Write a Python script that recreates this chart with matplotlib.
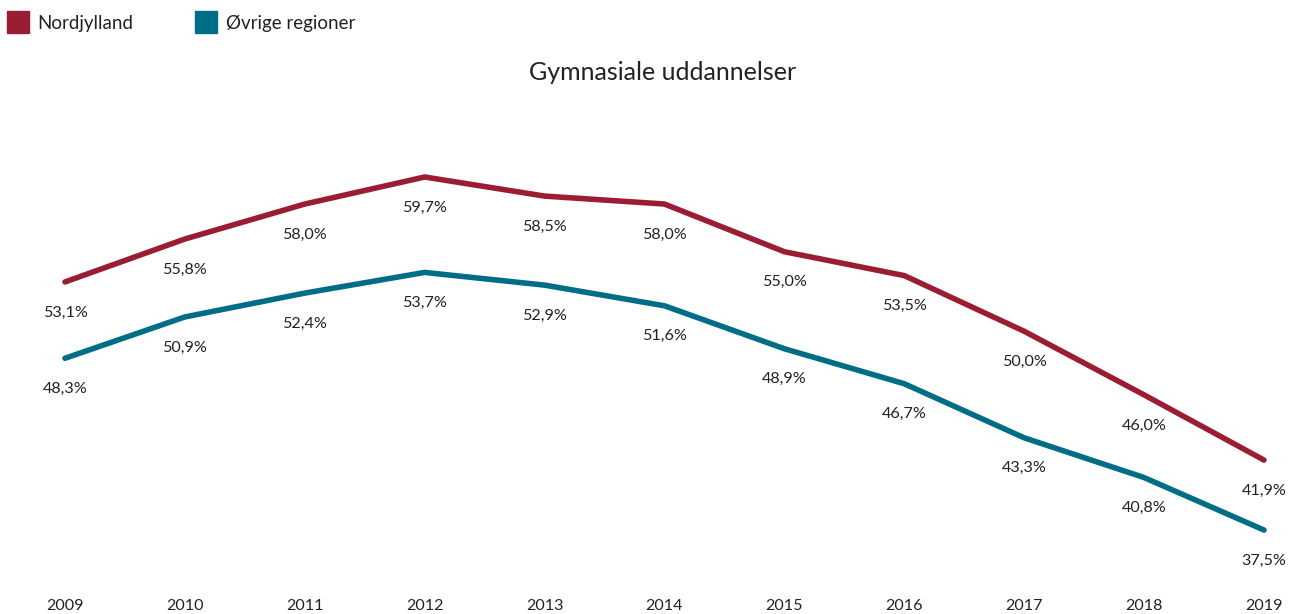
import matplotlib
matplotlib.use("Agg")
import matplotlib.pyplot as plt
from matplotlib.patches import Rectangle

years = [2009, 2010, 2011, 2012, 2013, 2014, 2015, 2016, 2017, 2018, 2019]
nordjylland = [53.1, 55.8, 58.0, 59.7, 58.5, 58.0, 55.0, 53.5, 50.0, 46.0, 41.9]
oevrige = [48.3, 50.9, 52.4, 53.7, 52.9, 51.6, 48.9, 46.7, 43.3, 40.8, 37.5]
series_names = ["Nordjylland", "Øvrige regioner"]
title = "Gymnasiale uddannelser"

red = "#9B1D33"
teal = "#006D87"
font = "Lato"

W, H = 1299, 614
fig = plt.figure(figsize=(W / 100, H / 100), dpi=100)
ax = fig.add_axes([0, 0, 1, 1])
ax.set_xlim(2008.458, 2019.292)
ax.set_ylim(32.22, 70.83)
ax.axis("off")

for vals, col in [(nordjylland, red), (oevrige, teal)]:
    ax.plot(years, vals, color=col, lw=4.0, solid_capstyle="round", solid_joinstyle="round")
    for x, v in zip(years, vals):
        ax.annotate(f"{v:.1f}%".replace(".", ","), (x, v), xytext=(0, -22),
                    textcoords="offset points", ha="center", va="center",
                    fontsize=11.6, color="#222222", family=font)

for x in years:
    ax.annotate(str(x), (x, 32.22), xytext=(0, 6), textcoords="offset points",
                ha="center", va="center", fontsize=11.6, color="#222222", family=font)

fig.text(663 / W, 1 - 73 / H, title, ha="center", va="center", fontsize=18,
         color="#222222", family=font)

# legend drawn manually in figure pixel coordinates
legend_items = [(7, 37, series_names[0], red), (195, 226, series_names[1], teal)]
for sx, tx, name, col in legend_items:
    fig.patches.append(Rectangle((sx / W, 1 - 33 / H), 22 / W, 22 / H,
                                 transform=fig.transFigure, color=col, zorder=5))
    fig.text(tx / W, 1 - 23 / H, name, ha="left", va="center", fontsize=13.5,
             color="#222222", family=font)

fig.savefig("out.png", dpi=100)
